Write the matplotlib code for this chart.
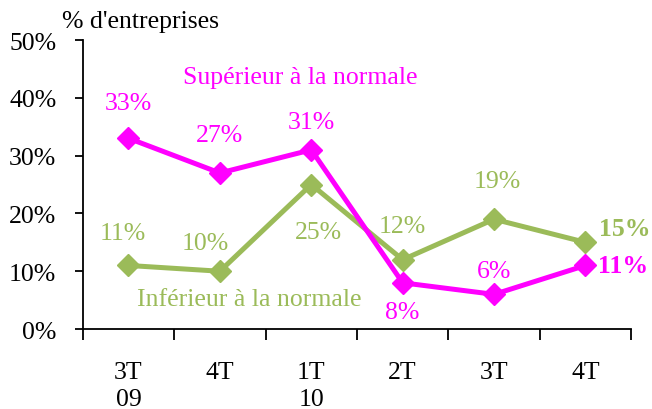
import matplotlib.pyplot as plt

plt.rcParams['font.family'] = ['Liberation Serif', 'DejaVu Serif']

quarters = ['3T\n09', '4T', '1T\n10', '2T', '3T', '4T']
superieur = [33, 27, 31, 8, 6, 11]
inferieur = [11, 10, 25, 12, 19, 15]

MAGENTA = '#FF00FF'
GREEN = '#9BBB59'
FS = 18.5

fig = plt.figure(figsize=(6.52, 4.10), dpi=100)
ax = fig.add_axes([0.127, 0.195, 0.841, 0.705])

x = list(range(len(quarters)))
ax.plot(x, inferieur, color=GREEN, lw=3.6, marker='D', ms=11.5, zorder=3)
ax.plot(x, superieur, color=MAGENTA, lw=3.6, marker='D', ms=11.5, zorder=4)

ax.set_xlim(-0.5, len(quarters) - 0.5)
ax.set_ylim(0, 50)
ax.set_yticks(range(0, 51, 10))
ax.set_yticklabels([f'{v}%' for v in range(0, 51, 10)], fontsize=FS)
ax.set_xticks([i - 0.5 for i in range(len(quarters) + 1)])
ax.set_xticklabels([])
ax.set_xticks(x, minor=True)
ax.set_xticklabels(quarters, minor=True, fontsize=FS, va='top', linespacing=1.3)
ax.tick_params(axis='x', which='minor', length=0, pad=23)
ax.tick_params(axis='x', which='major', length=8, width=1.3, direction='out')
ax.tick_params(axis='y', length=6, width=1.3, direction='out', pad=13)
for s in ['top', 'right']:
    ax.spines[s].set_visible(False)
for s in ['left', 'bottom']:
    ax.spines[s].set_linewidth(1.3)

# value labels (offsets in pixels)
sup_off = [(0, 35), (0, 38), (0, 28), (0, -29), (0, 23), (13, 0)]
inf_off = [(-6, 32), (-15, 28), (7, -47), (0, 34), (3, 38), (14, 14)]
for i, (v, off) in enumerate(zip(superieur, sup_off)):
    last = i == len(superieur) - 1
    ax.annotate(f'{v}%', (i, v), xytext=off, textcoords='offset pixels',
                ha='left' if last else 'center', va='center', color=MAGENTA,
                fontsize=FS, fontweight='bold' if last else 'normal')
for i, (v, off) in enumerate(zip(inferieur, inf_off)):
    last = i == len(inferieur) - 1
    ax.annotate(f'{v}%', (i, v), xytext=off, textcoords='offset pixels',
                ha='left' if last else 'center', va='center', color=GREEN,
                fontsize=FS, fontweight='bold' if last else 'normal')

fig.text(300 / 652, 1 - 78 / 410, 'Supérieur à la normale', color=MAGENTA,
         fontsize=FS, ha='center', va='center')
fig.text(249 / 652, 1 - 300 / 410, 'Inférieur à la normale', color=GREEN,
         fontsize=FS, ha='center', va='center')
fig.text(62 / 652, 1 - 22 / 410, "% d'entreprises", fontsize=FS,
         ha='left', va='center')

fig.savefig('out.png', dpi=100)
